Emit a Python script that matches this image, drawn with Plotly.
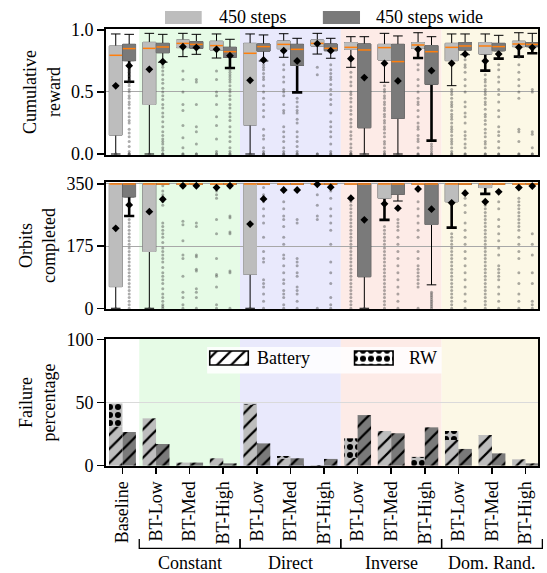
import plotly.graph_objects as go

# ---------------- data ----------------
categories = ["Baseline", "BT-Low", "BT-Med", "BT-High", "BT-Low", "BT-Med", "BT-High",
              "BT-Low", "BT-Med", "BT-High", "BT-Low", "BT-Med", "BT-High"]
groups = ["Constant", "Direct", "Inverse", "Dom. Rand."]
group_spans = [(0.5, 3.5), (3.5, 6.5), (6.5, 9.5), (9.5, 12.5)]
series_names = ["450 steps", "450 steps wide"]

# Cumulative reward, "450 steps"
rew_L_q1 = [0.153, 0.40, 0.858, 0.839, 0.234, 0.849, 0.871, 0.844, 0.758, 0.852, 0.753, 0.806, 0.866]
rew_L_med = [0.796, 0.852, 0.892, 0.874, 0.812, 0.884, 0.892, 0.860, 0.858, 0.879, 0.860, 0.871, 0.887]
rew_L_q3 = [0.870, 0.900, 0.919, 0.909, 0.892, 0.911, 0.919, 0.898, 0.884, 0.898, 0.892, 0.898, 0.909]
rew_L_lo = [0.0, 0.0, 0.785, 0.774, 0.0, 0.780, 0.806, 0.699, 0.578, None, 0.551, None, None]
rew_L_hi = [0.968, 0.973, 0.973, 0.968, 0.968, 0.970, 0.973, 0.946, 0.973, 0.978, 0.968, 0.968, 0.978]
rew_L_mean = [0.550, 0.683, 0.865, 0.844, 0.594, 0.833, 0.890, 0.769, 0.731, 0.844, 0.731, 0.750, 0.860]
rew_L_thick = [None, None, None, None, None, None, None, None, None, 0.774, None, 0.672, 0.785]
rew_L_out = [
    [0, 0, 0],
    [0, 0],
    [0.67, 0.60, 0.50, 0.40, 0.35, 0.23, 0.13, 0.05, 0, 0],
    [0.67, 0.60, 0.50, 0.47, 0.40, 0.30, 0.23, 0.12, 0.02, 0, 0],
    [0, 0],
    [0.72, 0.68, 0.62, 0.58, 0.52, 0.50, 0.47, 0.40, 0.35, 0.33, 0.22, 0.18, 0.14, 0.10, 0.05, 0.02, 0, 0],
    [0.70, 0.64, 0, 0],
    [0.66, 0.62, 0.58, 0.55, 0.50, 0.48, 0.45, 0.42, 0.38, 0.35, 0.32, 0.28, 0.25, 0.22, 0.18, 0.15,
     0.12, 0.08, 0.05, 0.02, 0, 0, 0],
    [0.55, 0.52, 0.50, 0.47, 0.45, 0.42, 0.40, 0.37, 0.35, 0.32, 0.30, 0.27, 0.25, 0.22, 0.20, 0.17,
     0.14, 0.10, 0.08, 0.05, 0.02, 0, 0],
    [0.72, 0.68, 0.60, 0.55, 0.50, 0.45, 0.42, 0.40, 0.35, 0.30, 0.25, 0.22, 0.20, 0.15, 0.12, 0.10, 0.05, 0, 0],
    [0.52, 0.50, 0.48, 0.45, 0.42, 0.40, 0.38, 0.35, 0.32, 0.30, 0.28, 0.25, 0.22, 0.20, 0.18, 0.15,
     0.12, 0.10, 0.08, 0.05, 0.02, 0, 0],
    [0.64, 0.60, 0.58, 0.55, 0.52, 0.50, 0.48, 0.45, 0.42, 0.40, 0.36, 0.32, 0.30, 0.27, 0.24, 0.20,
     0.17, 0.14, 0.10, 0.08, 0.05, 0, 0],
    [0.78, 0.72, 0.66, 0.60, 0.55, 0.50, 0.45, 0.20, 0.18, 0.10, 0, 0],
]

# Cumulative reward, "450 steps wide"
rew_D_q1 = [0.753, 0.817, 0.852, 0.780, 0.830, 0.715, 0.833, 0.212, 0.288, 0.562, 0.839, 0.833, 0.866]
rew_D_med = [0.850, 0.863, 0.884, 0.825, 0.866, 0.844, 0.852, 0.839, 0.745, 0.825, 0.871, 0.866, 0.884]
rew_D_q3 = [0.884, 0.892, 0.906, 0.860, 0.887, 0.884, 0.887, 0.887, 0.884, 0.874, 0.898, 0.892, 0.898]
rew_D_lo = [None, 0.740, 0.804, None, 0.750, None, 0.772, 0.0, 0.0, None, 0.800, None, None]
rew_D_hi = [0.965, 0.965, 0.965, 0.925, 0.960, 0.933, 0.933, 0.946, 0.952, 0.946, 0.968, 0.957, 0.973]
rew_D_mean = [0.712, 0.745, 0.858, 0.793, 0.758, 0.750, 0.833, 0.616, 0.589, 0.672, 0.806, 0.806, 0.858]
rew_D_thick = [0.583, None, None, 0.694, None, 0.497, None, None, None, 0.108, None, 0.769, 0.812]
rew_D_out = [
    [0.72, 0.70, 0.68, 0.66, 0.63, 0.60, 0.57, 0.55, 0.52, 0.50, 0.47, 0.45, 0.42, 0.40, 0.37, 0.33,
     0.30, 0.27, 0.25, 0.20, 0.17, 0.14, 0.10, 0.06, 0.02, 0, 0, 0],
    [0.72, 0.70, 0.67, 0.64, 0.60, 0.57, 0.53, 0.50, 0.47, 0.44, 0.40, 0.37, 0.33, 0.30, 0.26, 0.22,
     0.18, 0.15, 0.12, 0.10, 0.08, 0.05, 0.03, 0, 0, 0],
    [0.60, 0.58, 0.40, 0.22, 0.18, 0.08, 0, 0],
    [0.68, 0.66, 0.64, 0.62, 0.60, 0.58, 0.55, 0.52, 0.50, 0.47, 0.44, 0.40, 0.37, 0.33, 0.30, 0.27,
     0.22, 0.18, 0.14, 0.10, 0.05, 0.02, 0, 0],
    [0.72, 0.70, 0.68, 0.65, 0.62, 0.60, 0.55, 0.50, 0.45, 0.40, 0.35, 0.30, 0.20, 0.15, 0.12, 0.05, 0.02, 0, 0, 0],
    [0.45, 0.42, 0.38, 0.35, 0.33, 0.28, 0.25, 0.18, 0.14, 0.10, 0.06, 0.02, 0, 0],
    [0.72, 0.68, 0.65, 0.62, 0.60, 0.56, 0.52, 0.48, 0.44, 0.40, 0.33, 0.26, 0.22, 0.18, 0.14, 0.08, 0.02, 0, 0],
    [0, 0],
    [0, 0],
    [0.08, 0.06, 0.04, 0.02, 0, 0],
    [0.76, 0.72, 0.70, 0.66, 0.60, 0.55, 0.50, 0.42, 0.38, 0.33, 0.30, 0.25, 0.18, 0.15, 0.12, 0.08, 0.05, 0, 0],
    [0.72, 0.68, 0.62, 0.58, 0.52, 0.48, 0.42, 0.35, 0.30, 0.22, 0.18, 0.15, 0.10, 0.05, 0, 0],
    [0.52, 0.50, 0.18, 0.16, 0.05, 0, 0],
]

# Orbits completed, "450 steps"
orb_L_q1 = [61, 160, 350, 350, 96, 350, 350, 350, 310, 350, 300, 340, 350]
orb_L_med = [350, 350, 350, 350, 350, 350, 350, 350, 350, 350, 350, 350, 350]
orb_L_q3 = [350, 350, 350, 350, 350, 350, 350, 350, 350, 350, 350, 350, 350]
orb_L_lo = [0, 0, 350, 350, 0, 350, 350, 350, None, 350, None, None, 350]
orb_L_hi = [350, 350, 350, 350, 350, 350, 350, 350, 350, 350, 350, 350, 350]
orb_L_mean = [225, 272, 345, 340, 237, 333, 349, 310, 294, 336, 297, 300, 340]
orb_L_thick = [None, None, None, None, None, None, None, None, 249, None, 227, 322, None]
orb_L_out = [
    [0],
    [0],
    [245, 235, 190, 150, 140, 90, 45, 30, 10, 0],
    [330, 320, 310, 250, 210, 140, 95, 90, 60, 10, 0],
    [0],
    [300, 280, 260, 250, 230, 200, 180, 150, 140, 120, 100, 80, 70, 50, 40, 30, 10, 0],
    [320, 290, 260, 250, 0],
    [300, 290, 280, 270, 260, 250, 240, 230, 220, 210, 200, 190, 180, 170, 160, 150, 140, 130, 120,
     110, 100, 90, 80, 70, 60, 50, 40, 30, 20, 10, 0],
    [230, 220, 210, 200, 190, 180, 170, 160, 150, 140, 130, 120, 110, 100, 90, 80, 70, 60, 50, 40, 30, 20, 10, 0],
    [330, 300, 280, 260, 240, 220, 200, 160, 140, 120, 110, 100, 90, 80, 70, 60, 0],
    [210, 200, 190, 180, 170, 160, 150, 140, 130, 120, 110, 100, 90, 80, 70, 60, 50, 40, 30, 20, 10, 0],
    [290, 280, 270, 260, 250, 240, 230, 220, 210, 200, 190, 180, 170, 160, 150, 140, 130, 120, 110,
     100, 90, 80, 70, 60, 50, 40, 30, 20, 10, 0],
    [310, 300, 290, 280, 270, 260, 250, 240, 230, 220, 200, 180, 160, 140, 100, 70, 40, 20, 0],
]

# Orbits completed, "450 steps wide"
orb_D_q1 = [314, 350, 350, 350, 350, 350, 350, 89, 321, 236, 350, 350, 350]
orb_D_med = [350, 350, 350, 350, 350, 350, 350, 350, 350, 350, 350, 350, 350]
orb_D_q3 = [350, 350, 350, 350, 350, 350, 350, 350, 350, 350, 350, 350, 350]
orb_D_lo = [None, 350, 350, 350, 350, 350, 350, 0, 302, 66, 350, 350, 350]
orb_D_hi = [350, 350, 350, 350, 350, 350, 350, 350, 350, 350, 350, 350, 350]
orb_D_mean = [291, 307, 345, 345, 308, 333, 341, 249, 282, 279, 324, 328, 344]
orb_D_thick = [260, None, None, None, None, None, None, None, None, None, None, None, None]
orb_D_out = [
    [250, 240, 230, 220, 210, 200, 190, 180, 170, 160, 150, 140, 130, 120, 110, 100, 90, 80, 70, 60,
     50, 40, 30, 20, 10, 0],
    [345, 330, 320, 300, 290, 240, 230, 220, 210, 200, 185, 170, 160, 150, 140, 130, 115, 100, 90, 80,
     70, 55, 40, 30, 20, 10, 5, 0],
    [240, 230, 150, 145, 110, 105, 55, 45, 30, 0],
    [345, 260, 255, 215, 210, 105, 100, 0],
    [340, 320, 300, 280, 260, 240, 200, 160, 140, 130, 80, 70, 60, 40, 20, 0],
    [250, 240, 140, 130, 120, 100, 90, 60, 50, 40, 20, 0],
    [330, 310, 280, 260, 240, 220, 180, 130, 100, 70, 30, 10, 0],
    [0],
    [250, 240, 230, 220, 200, 180, 160, 140, 120, 100, 80, 60, 40, 20, 0],
    [45, 40, 35, 30, 25, 20, 15, 10, 5, 0],
    [330, 320, 310, 290, 270, 240, 220, 200, 180, 160, 140, 120, 100, 80, 60, 40, 20, 0],
    [300, 280, 250, 230, 210, 190, 170, 150, 120, 110, 100, 90, 80, 60, 40, 20, 0],
    [210, 180, 150, 100, 70, 20, 10, 0],
]

# Failure percentage
fail_L_battery = [31.0, 37.4, 2.4, 5.8, 48.2, 5.6, 0.5, 6.0, 27.4, 0.0, 20.3, 24.2, 5.0]
fail_L_rw = [18.2, 0.0, 0.0, 0.0, 1.0, 2.0, 0.0, 15.6, 0.0, 6.9, 7.1, 0.0, 0.0]
fail_D_battery = [26.6, 17.1, 2.4, 1.8, 17.6, 5.8, 5.3, 40.0, 25.6, 30.3, 13.2, 9.7, 1.8]
fail_D_rw = [0.0] * 13
failure_names = ["Battery", "RW"]

# ---------------- style ----------------
FONT = "Liberation Serif"
LIGHT = "#bdbdbd"
DARK = "#7a7a7a"
ORANGE = "#ff7f0e"
group_colors = ["#e6fbe6", "#e9e9fc", "#fdebe7", "#fcf8e6"]
OFF = 0.2
BW = 0.38
XR = [-0.49, 12.37]
idx = list(range(len(categories)))
xL = [i - OFF for i in idx]
xD = [i + OFF for i in idx]

fig = go.Figure()


def add_box_panel(xa, ya, series, eps):
    # series: list of (pos, q1, med, q3, lo, hi, mean, thick, outl, fill)
    for pos, q1, med, q3, lo, hi, mean, thick, outl, fill in series:
        ids = [i for i, t in enumerate(thick) if t is not None]
        if ids:
            top = [q1[i] + eps for i in ids]
            fig.add_trace(go.Box(
                x=[pos[i] for i in ids], q1=top, median=top, q3=top,
                lowerfence=[thick[i] for i in ids], upperfence=top,
                width=BW, whiskerwidth=0.8, fillcolor="black",
                line=dict(color="black", width=2.6), boxpoints=False,
                xaxis=xa, yaxis=ya, showlegend=False, hoverinfo="skip"))
    for pos, q1, med, q3, lo, hi, mean, thick, outl, fill in series:
        lof = [l if l is not None else q for l, q in zip(lo, q1)]
        fig.add_trace(go.Box(
            x=pos, q1=q1, median=med, q3=q3, lowerfence=lof, upperfence=hi,
            width=BW, whiskerwidth=0.75, fillcolor=fill,
            line=dict(color="black", width=1), boxpoints=False,
            xaxis=xa, yaxis=ya, showlegend=False, hoverinfo="skip"))
        fig.add_trace(go.Box(
            x=pos, q1=q1, median=q1, q3=q3, lowerfence=q1, upperfence=q3,
            width=BW, whiskerwidth=0, fillcolor=fill,
            line=dict(color=fill, width=1), boxpoints=False,
            xaxis=xa, yaxis=ya, showlegend=False, hoverinfo="skip"))
    for pos, q1, med, q3, lo, hi, mean, thick, outl, fill in series:
        ox, oy = [], []
        for p, vals in zip(pos, outl):
            ox += [p] * len(vals)
            oy += vals
        fig.add_trace(go.Scatter(
            x=ox, y=oy, mode="markers",
            marker=dict(size=3, color="rgba(70,70,70,0.45)", line=dict(width=0)),
            xaxis=xa, yaxis=ya, showlegend=False, hoverinfo="skip"))
    for pos, q1, med, q3, lo, hi, mean, thick, outl, fill in series:
        mx, my = [], []
        for p, m in zip(pos, med):
            mx += [p - BW / 2, p + BW / 2, None]
            my += [m, m, None]
        fig.add_trace(go.Scatter(
            x=mx, y=my, mode="lines", line=dict(color=ORANGE, width=1.5),
            xaxis=xa, yaxis=ya, showlegend=False, hoverinfo="skip"))
    for pos, q1, med, q3, lo, hi, mean, thick, outl, fill in series:
        fig.add_trace(go.Scatter(
            x=pos, y=mean, mode="markers",
            marker=dict(symbol="diamond", size=6, color="black", line=dict(width=0)),
            xaxis=xa, yaxis=ya, showlegend=False, hoverinfo="skip"))


add_box_panel("x", "y", [
    (xL, rew_L_q1, rew_L_med, rew_L_q3, rew_L_lo, rew_L_hi, rew_L_mean, rew_L_thick, rew_L_out, LIGHT),
    (xD, rew_D_q1, rew_D_med, rew_D_q3, rew_D_lo, rew_D_hi, rew_D_mean, rew_D_thick, rew_D_out, DARK),
], 0.012)

add_box_panel("x2", "y2", [
    (xL, orb_L_q1, orb_L_med, orb_L_q3, orb_L_lo, orb_L_hi, orb_L_mean, orb_L_thick, orb_L_out, LIGHT),
    (xD, orb_D_q1, orb_D_med, orb_D_q3, orb_D_lo, orb_D_hi, orb_D_mean, orb_D_thick, orb_D_out, DARK),
], 4)


def pat(shape):
    if shape == "/":
        return dict(shape="/", fgcolor="black", fgopacity=1, size=10, solidity=0.22, fillmode="overlay")
    return dict(shape=".", fgcolor="black", fgopacity=1, size=8, solidity=0.45, fillmode="overlay")


fig.add_trace(go.Bar(x=xL, y=fail_L_battery, width=0.4, name=failure_names[0],
                     marker=dict(color=LIGHT, line=dict(width=0), pattern=pat("/")),
                     xaxis="x3", yaxis="y3", showlegend=False, hoverinfo="skip"))
fig.add_trace(go.Bar(x=xL, y=fail_L_rw, base=fail_L_battery, width=0.4, name=failure_names[1],
                     marker=dict(color=LIGHT, line=dict(width=0), pattern=pat(".")),
                     xaxis="x3", yaxis="y3", showlegend=False, hoverinfo="skip"))
fig.add_trace(go.Bar(x=xD, y=fail_D_battery, width=0.4, name=failure_names[0],
                     marker=dict(color=DARK, line=dict(width=0), pattern=pat("/")),
                     xaxis="x3", yaxis="y3", showlegend=False, hoverinfo="skip"))
fig.add_trace(go.Bar(x=xD, y=fail_D_rw, base=fail_D_battery, width=0.4, name=failure_names[1],
                     marker=dict(color=DARK, line=dict(width=0), pattern=pat(".")),
                     xaxis="x3", yaxis="y3", showlegend=False, hoverinfo="skip"))

# legend swatches for failure types (drawn on a hidden helper axis)
sw_x = [0.0936, 0.7098]
sw_w = 0.164
for k, shp in enumerate(["/", "."]):
    p = pat(shp)
    fig.add_trace(go.Bar(x=[sw_x[k]], y=[0.526], base=[0.312], width=sw_w,
                         marker=dict(color="white", line=dict(color="black", width=1.6), pattern=p),
                         xaxis="x4", yaxis="y4", showlegend=False, hoverinfo="skip"))

# ---------------- layout ----------------
shapes = []
for (a, b), col in zip(group_spans, group_colors):
    for xa, ya in [("x", "y"), ("x2", "y2"), ("x3", "y3")]:
        shapes.append(dict(type="rect", xref=xa, yref=ya, x0=a, x1=b, y0=-1000, y1=1000,
                           fillcolor=col, line=dict(width=0), layer="below"))
shapes.append(dict(type="rect", xref="x3", yref="y3", x0=2.52, x1=9.5, y0=72.9, y1=93.9,
                   fillcolor="rgba(255,255,255,0.85)", line=dict(width=0), layer="below"))

shapes.append(dict(type="rect", xref="paper", yref="paper", x0=0.1366, x1=0.2215, y0=1.0114, y1=1.041,
                   fillcolor=LIGHT, line=dict(width=0)))
shapes.append(dict(type="rect", xref="paper", yref="paper", x0=0.502, x1=0.588, y0=1.0114, y1=1.041,
                   fillcolor=DARK, line=dict(width=0)))


def px(v):
    return (v - XR[0]) / (XR[1] - XR[0])


yb_top, yb_bot = -0.167, -0.1883
for a, b in group_spans:
    shapes.append(dict(type="path", xref="paper", yref="paper",
                       path=f"M {px(a)},{yb_top} L {px(a)},{yb_bot} L {px(b)},{yb_bot} L {px(b)},{yb_top}",
                       line=dict(color="black", width=1.3)))

annotations = [
    dict(text=series_names[0], x=0.257, y=1.0275, xref="paper", yref="paper", xanchor="left",
         yanchor="middle", showarrow=False, font=dict(family=FONT, size=18, color="black")),
    dict(text=series_names[1], x=0.6204, y=1.0275, xref="paper", yref="paper", xanchor="left",
         yanchor="middle", showarrow=False, font=dict(family=FONT, size=18, color="black")),
    dict(text=failure_names[0], x=0.345, y=0.2471, xref="paper", yref="paper", xanchor="left",
         yanchor="middle", showarrow=False, font=dict(family=FONT, size=18, color="black")),
    dict(text=failure_names[1], x=0.6968, y=0.2471, xref="paper", yref="paper", xanchor="left",
         yanchor="middle", showarrow=False, font=dict(family=FONT, size=18, color="black")),
]
for g, (a, b) in zip(groups, group_spans):
    annotations.append(dict(text=g, x=(a + b) / 2, y=-0.222, xref="x3", yref="paper",
                            xanchor="center", yanchor="middle", showarrow=False,
                            font=dict(family=FONT, size=18, color="black")))

axis_common = dict(showline=True, mirror=True, linecolor="black", linewidth=2, zeroline=False,
                   tickfont=dict(family=FONT, size=18, color="black"))
yax_common = dict(axis_common, ticks="outside", ticklen=7, tickwidth=1.5, tickcolor="black",
                  showgrid=True, gridwidth=1, ticklabelstandoff=0)
xax_hidden = dict(axis_common, range=XR, showticklabels=False, ticks="", showgrid=False)

fig.update_layout(
    template="none",
    width=547, height=573,
    margin=dict(l=106, r=9, t=29, b=107),
    paper_bgcolor="white", plot_bgcolor="rgba(0,0,0,0)",
    font=dict(family=FONT, size=18, color="black"),
    boxmode="overlay", barmode="overlay",
    showlegend=False,
    xaxis=dict(xax_hidden, domain=[0, 1], anchor="y"),
    xaxis2=dict(xax_hidden, domain=[0, 1], anchor="y2"),
    xaxis3=dict(axis_common, domain=[0, 1], anchor="y3", range=XR, tickmode="array",
                tickvals=idx, ticktext=categories, tickangle=-90, ticks="outside",
                ticklen=6, tickwidth=1.5, tickcolor="black", showgrid=False),
    yaxis=dict(yax_common, domain=[0.7117, 1], anchor="x", range=[-0.008, 1.008],
               tickvals=[0, 0.5, 1.0], ticktext=["0.0", "0.5", "1.0"], gridcolor="#a8a8a8",
               title=dict(text="Cumulative<br>reward", standoff=6, font=dict(family=FONT, size=18))),
    yaxis2=dict(yax_common, domain=[0.3593, 0.6499], anchor="x2", range=[-2, 355.6],
                tickvals=[0, 175, 350], gridcolor="#a8a8a8",
                title=dict(text="Orbits<br>completed", standoff=6, font=dict(family=FONT, size=18))),
    yaxis3=dict(yax_common, domain=[0, 0.2906], anchor="x3", range=[-0.3, 100.2],
                tickvals=[0, 50, 100], gridcolor="#dadada",
                title=dict(text="Failure<br>percentage", standoff=6, font=dict(family=FONT, size=18))),
    xaxis4=dict(domain=[0.2338, 0.7778], anchor="y4", range=[0, 1], visible=False, fixedrange=True),
    yaxis4=dict(domain=[0.2121, 0.273], anchor="x4", range=[0, 1], visible=False, fixedrange=True),
    shapes=shapes,
    annotations=annotations,
)

fig.write_html("out.html", config={"displayModeBar": False, "staticPlot": True},
               post_script="document.body.style.margin='0';document.body.style.overflow='hidden';")
